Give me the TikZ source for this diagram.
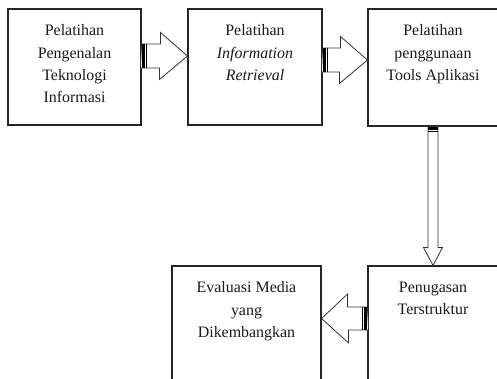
\documentclass[tikz,border=0pt]{standalone}
\usepackage{fontspec}
\setmainfont{Liberation Serif}
\usetikzlibrary{calc}
\tikzset{
  box/.style={draw=black!85, line width=1.1bp, rectangle, inner sep=0pt},
  txt/.style={align=center, inner sep=0pt, anchor=north, font=\fontsize{16}{22.5}\selectfont, text=black!90},
  blk/.style={draw=black!80, line width=0.8bp, fill=white, line join=miter},
  stripe/.style={fill=black}
}
\begin{document}
\begin{tikzpicture}[x=1bp,y=-1bp]
\useasboundingbox (0,0) rectangle (497,378);
\clip (0,0) rectangle (497,378);
% boxes
\node[box, minimum width=133bp, minimum height=116bp] (b1) at (74.5,67) {};
\node[box, minimum width=134bp, minimum height=116bp] (b2) at (255,67) {};
\node[box, minimum width=130bp, minimum height=117bp] (b3) at (433,67.5) {};
\node[box, minimum width=130bp, minimum height=140bp] (b4) at (433,336) {};
\node[box, minimum width=149bp, minimum height=140bp] (b5) at (246.5,336) {};
% texts
\node[txt] (t1) at ([yshift=-16bp]b1.north) {Pelatihan\\Pengenalan\\Teknologi\\Informasi};
\node[txt] (t2) at ([yshift=-16bp]b2.north) {Pelatihan\\\textit{Information}\\\textit{Retrieval}};
\node[txt] (t3) at ([yshift=-16bp]b3.north) {Pelatihan\\penggunaan\\Tools Aplikasi};
\node[txt] (t4) at ([yshift=-16bp]b4.north) {Penugasan\\Terstruktur};
\node[txt] (t5) at ([yshift=-16bp]b5.north) {Evaluasi Media\\yang\\Dikembangkan};
% connector anchor points
\coordinate (a1s) at (b1.east |- 0,56);
\coordinate (a1e) at (b2.west |- 0,56);
\coordinate (a2s) at (b2.east |- 0,60);
\coordinate (a2e) at (b3.west |- 0,60);
\coordinate (a3s) at (b3.south);
\coordinate (a3e) at (b4.north);
\coordinate (a4s) at (b4.west |- 0,318.5);
\coordinate (a4e) at (b5.east |- 0,318.5);
% arrow 1
\draw[blk] (a1s) ++(0,-12) -- ++(19,0) -- ++(0,-11.5) -- (a1e) -- ++(-28,23.5) -- ++(0,-11.5) -- ++(-19,0) -- cycle;
\fill[stripe] (a1s) ++(0,-12) rectangle ++(3.4,24);
\fill[stripe] (a1s) ++(4,-12) rectangle ++(1.8,24);
% arrow 2
\draw[blk] (a2s) ++(0,-12) -- ++(18,0) -- ++(0,-11.5) -- (a2e) -- ++(-28,23.5) -- ++(0,-11.5) -- ++(-18,0) -- cycle;
\fill[stripe] (a2s) ++(0,-12) rectangle ++(3.4,24);
\fill[stripe] (a2s) ++(4,-12) rectangle ++(1.8,24);
% arrow 3 (down)
\draw[blk] (a3s) ++(-5,0) -- ++(0,121) -- ++(-4.5,0) -- (a3e) -- ++(9.5,-18) -- ++(-4.5,0) -- ++(0,-121) -- cycle;
\fill[stripe] (a3s) ++(-5,0) rectangle ++(10,3.4);
\fill[stripe] (a3s) ++(-5,4) rectangle ++(10,1.6);
% arrow 4 (left)
\draw[blk] (a4s) ++(0,-11.5) -- ++(-20,0) -- ++(0,-13) -- (a4e) -- ++(27,24.5) -- ++(0,-13) -- ++(20,0) -- cycle;
\fill[stripe] (a4s) ++(0,-11.5) rectangle ++(-3.4,23);
\fill[stripe] (a4s) ++(-4,-11.5) rectangle ++(-1.8,23);
\end{tikzpicture}
\end{document}
